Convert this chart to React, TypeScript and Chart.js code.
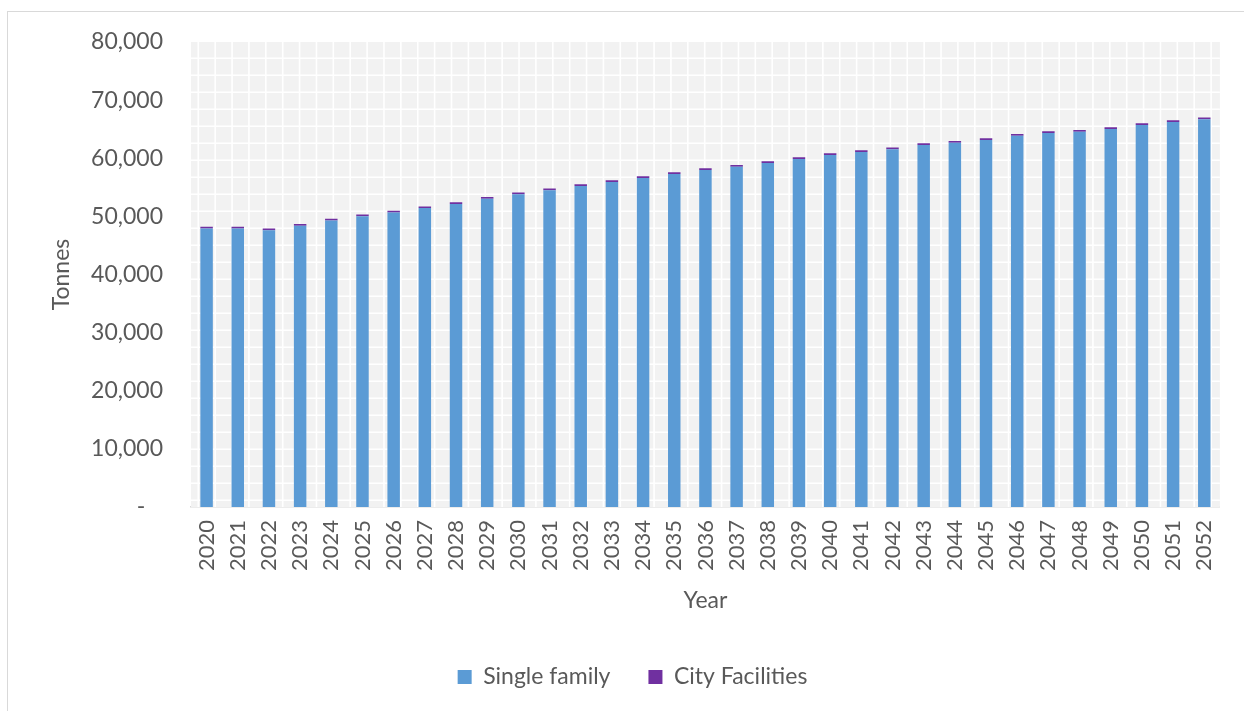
import React, { useEffect, useRef } from "react";
import { Chart, registerables } from "chart.js";

Chart.register(...registerables);

const years = [
  "2020", "2021", "2022", "2023", "2024", "2025", "2026", "2027", "2028", "2029", "2030",
  "2031", "2032", "2033", "2034", "2035", "2036", "2037", "2038", "2039", "2040", "2041",
  "2042", "2043", "2044", "2045", "2046", "2047", "2048", "2049", "2050", "2051", "2052",
];

const singleFamily = [
  47920, 47920, 47620, 48370, 49300, 50040, 50680, 51420, 52110, 53030, 53790,
  54480, 55220, 55910, 56600, 57290, 57980, 58540, 59180, 59870, 60560, 61080,
  61540, 62290, 62680, 63150, 63890, 64360, 64580, 65040, 65730, 66250, 66720,
];

const cityFacilities = [
  300, 300, 300, 300, 300, 300, 300, 300, 300, 300, 300,
  300, 300, 300, 300, 300, 300, 300, 300, 300, 300, 300,
  300, 300, 300, 300, 300, 300, 300, 300, 300, 300, 300,
];

const FONT = "Lato";
const TEXT = "#595959";

// Plot-area fill: light grey with a fine white lattice
const latticeBackground = {
  id: "latticeBackground",
  beforeDatasetsDraw(chart: any) {
    const { ctx, chartArea } = chart;
    const { left, top, right, bottom } = chartArea;
    ctx.save();
    ctx.fillStyle = "#f2f2f2";
    ctx.fillRect(left, top, right - left, bottom - top);
    ctx.strokeStyle = "#ffffff";
    ctx.lineWidth = 1.6;
    ctx.beginPath();
    for (let x = left + 7.3; x < right; x += 16.88) {
      ctx.moveTo(x, top);
      ctx.lineTo(x, bottom);
    }
    for (let y = top + 16.3; y < bottom; y += 17.0) {
      ctx.moveTo(left, y);
      ctx.lineTo(right, y);
    }
    ctx.stroke();
    ctx.restore();
  },
};

export default function App() {
  const canvasRef = useRef<HTMLCanvasElement | null>(null);

  useEffect(() => {
    if (!canvasRef.current) return;
    const chart = new Chart(canvasRef.current, {
      type: "bar",
      data: {
        labels: years,
        datasets: [
          {
            label: "Single family",
            data: singleFamily,
            backgroundColor: "#5b9bd5",
            barPercentage: 0.4,
            categoryPercentage: 1,
          },
          {
            label: "City Facilities",
            data: cityFacilities,
            backgroundColor: "#7030a0",
            barPercentage: 0.4,
            categoryPercentage: 1,
          },
        ],
      },
      options: {
        responsive: false,
        animation: false,
        devicePixelRatio: 1,
        layout: { padding: { top: 42, right: 21, bottom: 12.5, left: 42 } },
        plugins: {
          tooltip: { enabled: false },
          legend: {
            position: "bottom",
            labels: {
              color: TEXT,
              font: { family: FONT, size: 23 },
              boxWidth: 14,
              boxHeight: 14,
              padding: 38,
            },
          },
        },
        scales: {
          x: {
            stacked: true,
            grid: { display: false, drawTicks: false },
            border: { display: true, color: "#d9d9d9", width: 1.5 },
            ticks: {
              color: TEXT,
              font: { family: FONT, size: 22 },
              maxRotation: 90,
              minRotation: 90,
              autoSkip: false,
              padding: 13,
            },
            title: {
              display: true,
              text: "Year",
              color: TEXT,
              font: { family: FONT, size: 23 },
              padding: { top: 0, bottom: 12.7 },
            },
            afterFit: (s: any) => {
              s.height = 120.5;
            },
          },
          y: {
            stacked: true,
            min: 0,
            max: 80000,
            grid: { display: false, drawTicks: false },
            border: { display: false },
            ticks: {
              stepSize: 10000,
              color: TEXT,
              font: { family: FONT, size: 23 },
              padding: 28,
              callback: (v: any) => (Number(v) === 0 ? "-   " : Number(v).toLocaleString("en-US")),
            },
            title: {
              display: true,
              text: "Tonnes",
              color: TEXT,
              font: { family: FONT, size: 23 },
              padding: { top: 6.2, bottom: 0 },
            },
            afterFit: (s: any) => {
              s.width = 149;
            },
          },
        },
      },
      plugins: [latticeBackground],
    });
    return () => chart.destroy();
  }, []);

  return (
    <div style={{ position: "fixed", left: 0, top: 0, width: 1244, height: 711, background: "#ffffff" }}>
      <div
        style={{
          position: "absolute",
          left: 7,
          top: 11,
          right: 0,
          bottom: 0,
          borderTop: "1px solid #d9d9d9",
          borderLeft: "1px solid #d9d9d9",
        }}
      />
      <canvas ref={canvasRef} width={1244} height={711} style={{ position: "absolute", left: 0, top: 0 }} />
    </div>
  );
}
